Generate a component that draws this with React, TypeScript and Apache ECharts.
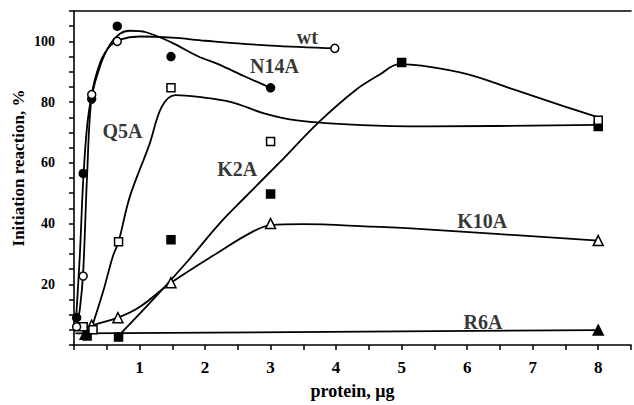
import React, { useEffect, useRef } from "react";
import * as echarts from "echarts";

// ---- measured points (protein µg, initiation reaction %) ----
const wtPoints = [[0.04, 6], [0.14, 22.7], [0.27, 82.5], [0.66, 100], [3.98, 97.7]];
const n14aPoints = [[0.04, 9], [0.14, 56.5], [0.27, 81], [0.66, 105], [1.48, 95], [3.0, 84.7]];
const q5aPoints = [[0.14, 6], [0.29, 5], [0.68, 34], [1.48, 84.7], [3.0, 67], [8, 74]];
const k2aPoints = [[0.2, 3], [0.68, 2.6], [1.48, 34.7], [3.0, 49.7], [5.0, 93], [8, 72]];
const k10aPoints = [[0.27, 6.5], [0.67, 9], [1.48, 20.5], [3.0, 40], [8, 34.4]];
const r6aPoints = [[0.17, 3.5], [8, 4.9]];

// ---- fitted curves ----
const wtFit = [[0.03, 5], [0.09, 12], [0.14, 24], [0.2, 56], [0.27, 82], [0.4, 93], [0.55, 98.5], [0.7, 100.6], [1.0, 101.6], [1.5, 101.2], [2.0, 100.2], [3.0, 98.6], [4.0, 97.7]];
const n14aFit = [[0.03, 8], [0.09, 30], [0.14, 54], [0.2, 72], [0.27, 82], [0.4, 92], [0.55, 99], [0.7, 102.5], [0.85, 103.5], [1.1, 103], [1.5, 99.5], [1.9, 95], [2.2, 92.5], [2.6, 88.5], [3.0, 84.7]];
const q5aFit = [[0.29, 7], [0.45, 18], [0.59, 29], [0.68, 34], [0.85, 48.7], [1.15, 66], [1.34, 78.5], [1.55, 82.3], [1.9, 81.7], [2.4, 80], [2.9, 76.3], [3.4, 74], [4.4, 72.4], [5.4, 72], [8, 72.5]];
const k2aFit = [[0.68, 3], [1.25, 16], [1.75, 28], [2.2, 39.5], [2.58, 48], [3.2, 61.5], [3.74, 73.5], [4.3, 84], [4.66, 89], [4.96, 92.5], [5.3, 92], [6.0, 89.2], [6.73, 84], [7.48, 78.6], [8, 75]];
const k10aFit = [[0.27, 6.5], [0.67, 9], [1.0, 12.5], [1.48, 20.5], [2.2, 30.5], [2.7, 37], [3.0, 39.5], [3.5, 39.8], [4.5, 39], [5.2, 38.3], [6.5, 36.5], [8, 34.4]];
const r6aFit = [[0.02, 3.8], [8, 4.9]];

// ---- curve labels (data coordinates) ----
const curveLabels = [
  { name: "wt", value: [3.56, 101.3] },
  { name: "N14A", value: [3.06, 91.9] },
  { name: "Q5A", value: [0.74, 70.5] },
  { name: "K2A", value: [2.49, 58] },
  { name: "K10A", value: [6.23, 41] },
  { name: "R6A", value: [6.24, 7.5] },
];

const xTickLabels = ["1", "2", "3", "4", "5", "6", "7", "8"];
const yTickLabels = ["20", "40", "60", "80", "100"];

const FONT = "'Liberation Serif', 'Times New Roman', serif";

export default function App() {
  const ref = useRef<HTMLDivElement>(null);
  useEffect(() => {
    if (!ref.current) return;
    const chart = echarts.init(ref.current, undefined, { renderer: "svg" });

    const fitSeries = (data: number[][]) => ({
      type: "line",
      data,
      smooth: 0.35,
      showSymbol: false,
      symbol: "none",
      lineStyle: { color: "#000", width: 1.8 },
      z: 2,
      silent: true,
    });
    const markSeries = (data: number[][], symbol: string, size: number, filled: boolean) => ({
      type: "scatter",
      data,
      symbol,
      symbolSize: size,
      itemStyle: { color: filled ? "#000" : "#fff", borderColor: "#000", borderWidth: 1.5, opacity: 1 },
      z: 3,
      silent: true,
    });

    chart.setOption({
      animation: false,
      backgroundColor: "#fff",
      grid: { left: 74, right: -5, top: 11, bottom: 56, containLabel: false },
      xAxis: [
        {
          type: "value",
          min: 0,
          max: 8.5,
          interval: 0.5,
          axisLine: { show: true, lineStyle: { color: "#000", width: 1.6 } },
          axisTick: { show: true, inside: false, length: 5, lineStyle: { color: "#000", width: 1.5 } },
          splitLine: { show: false },
          axisLabel: {
            margin: 14,
            color: "#000",
            fontFamily: FONT,
            fontWeight: "bold",
            fontSize: 17,
            formatter: (v: number) => {
              const s = String(v);
              return xTickLabels.includes(s) ? s : "";
            },
          },
          name: "protein, \u03bcg",
          nameLocation: "middle",
          nameGap: 37,
          nameTextStyle: { color: "#000", fontFamily: FONT, fontWeight: "bold", fontSize: 18 },
        },
        {
          type: "value",
          position: "top",
          min: 0,
          max: 8.5,
          axisLine: { show: true, lineStyle: { color: "#000", width: 1.6 } },
          axisTick: { show: false },
          axisLabel: { show: false },
          splitLine: { show: false },
        },
      ],
      yAxis: {
        type: "value",
        min: 0,
        max: 110,
        interval: 5,
        axisLine: { show: true, lineStyle: { color: "#000", width: 1.6 } },
        axisTick: { show: true, inside: false, length: 5, lineStyle: { color: "#000", width: 1.5 } },
        splitLine: { show: false },
        axisLabel: {
          margin: 19,
          color: "#000",
          fontFamily: FONT,
          fontWeight: "bold",
          fontSize: 14,
          formatter: (v: number) => {
            const s = String(v);
            return yTickLabels.includes(s) ? s : "";
          },
        },
      },
      graphic: [
        {
          type: "text",
          x: 18,
          y: 168,
          rotation: Math.PI / 2,
          style: {
            text: "Initiation reaction, %",
            fill: "#000",
            font: `bold 17px ${FONT}`,
            textAlign: "center",
            textVerticalAlign: "middle",
          },
        },
      ],
      series: [
        fitSeries(wtFit),
        fitSeries(n14aFit),
        fitSeries(q5aFit),
        fitSeries(k2aFit),
        fitSeries(k10aFit),
        fitSeries(r6aFit),
        markSeries(r6aPoints, "triangle", 10, true),
        markSeries(k10aPoints, "triangle", 10, false),
        markSeries(k2aPoints, "rect", 8, true),
        markSeries(q5aPoints, "rect", 8, false),
        markSeries(n14aPoints, "circle", 8, true),
        markSeries(wtPoints, "circle", 8, false),
        {
          type: "scatter",
          data: curveLabels,
          symbolSize: 0,
          silent: true,
          z: 5,
          label: {
            show: true,
            position: "inside",
            formatter: (p: any) => p.name,
            color: "#000",
            fontFamily: FONT,
            fontWeight: "bold",
            fontSize: 20,
          },
        },
      ],
    });
    return () => chart.dispose();
  }, []);
  return (
    <div
      ref={ref}
      style={{ position: "absolute", left: 0, top: 0, width: 634, height: 405, background: "#fff" }}
    />
  );
}
